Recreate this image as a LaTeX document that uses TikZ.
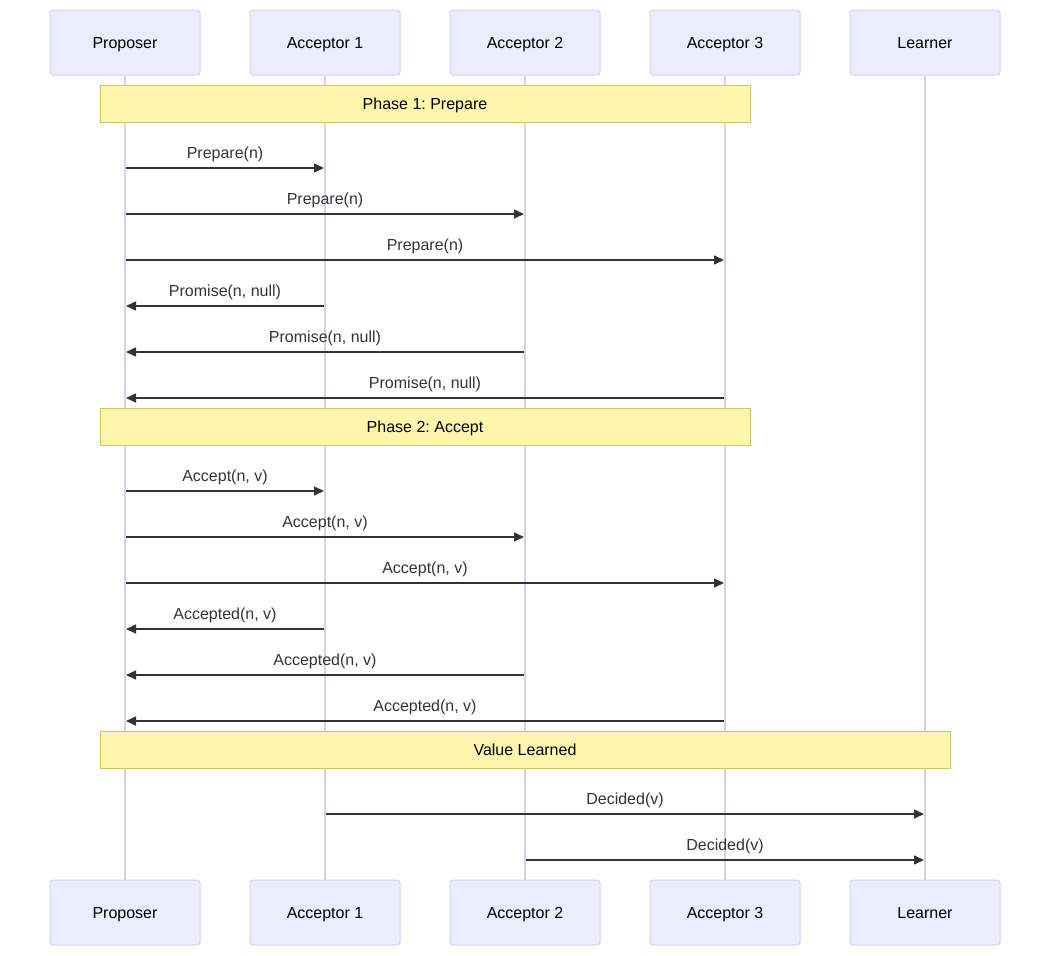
\documentclass[tikz,border=0pt]{standalone}
\usepackage{fontspec}
\setmainfont{Liberation Sans}
\frenchspacing
\usetikzlibrary{arrows.meta}
\definecolor{actfill}{HTML}{ECECFF}
\definecolor{actline}{HTML}{D8CEF2}
\definecolor{actborder}{HTML}{D4CEF4}
\definecolor{notefill}{HTML}{FFF5AD}
\definecolor{noteborder}{HTML}{C8C864}
\definecolor{msg}{HTML}{333333}
\tikzset{
  actor/.style={draw=actborder, fill=actfill, line width=1pt, rounded corners=3pt,
    minimum width=150pt, minimum height=65pt, inner sep=0pt, text=black,
    text height=15pt, text depth=3pt,
    font=\fontsize{16}{19}\selectfont},
  lifeline/.style={draw=actline, line width=1.5pt},
  notebox/.style={draw=noteborder, fill=notefill, line width=1pt, inner sep=0pt,
    text height=15pt, text depth=3pt,
    minimum height=37pt, text=black, font=\fontsize{16}{19}\selectfont},
  message/.style={draw=msg, line width=1.5pt, -{Triangle[length=10pt,width=9pt]}},
  msglabel/.style={text=msg, font=\fontsize{16}{19}\selectfont, inner sep=0pt,
    text height=15pt, text depth=3pt},
}
\begin{document}
\begin{tikzpicture}[x=1pt,y=-1pt]
\useasboundingbox (0,0) rectangle (1050,956);
% actors
\foreach \i/\t/\x in {0/Proposer/125,1/Acceptor 1/325,2/Acceptor 2/525,3/Acceptor 3/725,4/Learner/925}{
  \node[actor] (a\i) at (\x,42.5) {\t};
  \node[actor] (b\i) at (\x,912.5) {\t};
}
\foreach \i in {0,...,4}{ \draw[lifeline] (a\i.south) -- (b\i.north); }
% notes
\node[notebox, minimum width=650pt] (n1) at (425,103.5) {Phase 1: Prepare};
\node[notebox, minimum width=650pt] (n2) at (425,426.5) {Phase 2: Accept};
\node[notebox, minimum width=850pt] (n3) at (525,749.5) {Value Learned};
% messages
\newcommand{\msgR}[4]{% from, to, y, label
  \draw[message] ([xshift=1pt]#1.south |- 0,#3) -- ([xshift=-1pt]#2.south |- 0,#3);
  \path (#1.south |- 0,#3) -- (#2.south |- 0,#3) node[midway, msglabel, yshift=16pt] {#4};
}
\newcommand{\msgL}[4]{% from (right), to (left), y, label
  \draw[message] ([xshift=-1pt]#1.south |- 0,#3) -- ([xshift=1pt]#2.south |- 0,#3);
  \path (#1.south |- 0,#3) -- (#2.south |- 0,#3) node[midway, msglabel, yshift=16pt] {#4};
}
\msgR{a0}{a1}{168}{Prepare(n)}
\msgR{a0}{a2}{214}{Prepare(n)}
\msgR{a0}{a3}{260}{Prepare(n)}
\msgL{a1}{a0}{306}{Promise(n, null)}
\msgL{a2}{a0}{352}{Promise(n, null)}
\msgL{a3}{a0}{398}{Promise(n, null)}
\msgR{a0}{a1}{491}{Accept(n, v)}
\msgR{a0}{a2}{537}{Accept(n, v)}
\msgR{a0}{a3}{583}{Accept(n, v)}
\msgL{a1}{a0}{629}{Accepted(n, v)}
\msgL{a2}{a0}{675}{Accepted(n, v)}
\msgL{a3}{a0}{721}{Accepted(n, v)}
\msgR{a1}{a4}{814}{Decided(v)}
\msgR{a2}{a4}{860}{Decided(v)}
\end{tikzpicture}
\end{document}
